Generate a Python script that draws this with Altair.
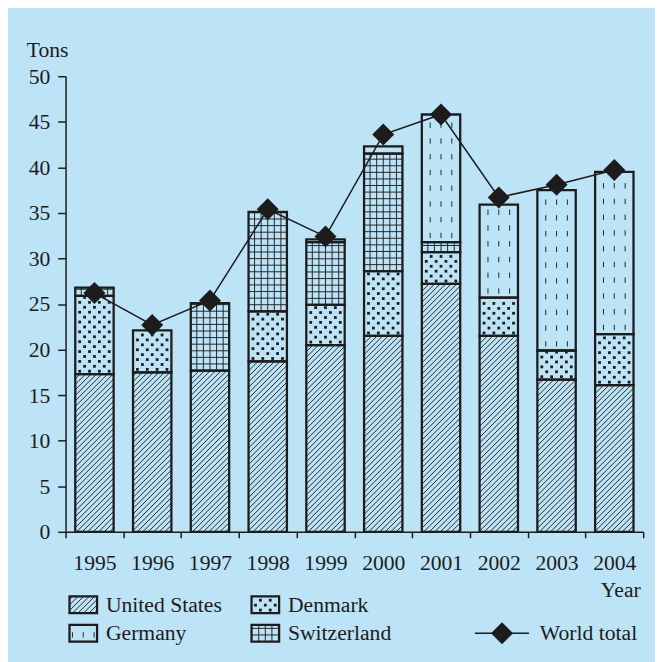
import altair as alt
import numpy as np
import pandas as pd

# ---------------- data ----------------
years = [1995, 1996, 1997, 1998, 1999, 2000, 2001, 2002, 2003, 2004]
united_states = [17.3, 17.5, 17.7, 18.7, 20.5, 21.5, 27.2, 21.5, 16.7, 16.1]
denmark = [8.6, 4.6, 0.0, 5.5, 4.4, 7.1, 3.5, 4.2, 3.2, 5.6]
switzerland = [0.9, 0.0, 7.4, 10.9, 6.9, 12.9, 1.1, 0.0, 0.0, 0.0]
germany = [0.0, 0.0, 0.0, 0.0, 0.3, 0.8, 14.0, 10.2, 17.6, 17.8]
world_total = [26.2, 22.7, 25.4, 35.4, 32.4, 43.6, 45.8, 36.7, 38.1, 39.7]

stack_order = ["United States", "Denmark", "Switzerland", "Germany"]
legend_items = ["United States", "Denmark", "Germany", "Switzerland"]
line_label = "World total"
y_ticks = list(range(0, 51, 5))

# ---------------- styling / layout ----------------
BG = "#bde3f7"
INK = "#1c1c1c"
FONT = "Liberation Serif"
FS = 22
W, H = 587, 463
X_DOMAIN = [1994.5, 2004.5]
Y_DOMAIN = [0, 50]
PXX = W / (X_DOMAIN[1] - X_DOMAIN[0])
PXY = H / (Y_DOMAIN[1] - Y_DOMAIN[0])
BAR_HALF = 19.5  # px

series = {"United States": united_states, "Denmark": denmark,
          "Switzerland": switzerland, "Germany": germany}
kind_of = {"United States": "hatch", "Denmark": "dots",
           "Switzerland": "grid", "Germany": "dash"}


def to_x(X):
    return X_DOMAIN[0] + X / PXX


def to_y(Y):
    return Y / PXY


lines, dots, rects = [], [], []


def add_pattern(kind, Xc, half, Y0, Y1):
    X0, X1 = Xc - half, Xc + half
    rects.append((X0, X1, Y0, Y1))
    if kind == "hatch":
        s = 5.6
        for k in np.arange(np.ceil((Y0 - X1) / s), np.floor((Y1 - X0) / s) + 1):
            c = k * s
            xa = max(X0, Y0 - c)
            xb = min(X1, Y1 - c)
            if xb - xa > 0.4:
                lines.append((xa, xa + c, xb, xb + c))
    elif kind == "dots":
        r = 0
        Y = Y0 + 3.0
        while Y < Y1 - 1.5:
            offs = np.arange(-15, 16, 10) if r % 2 == 0 else np.arange(-10, 11, 10)
            for o in offs:
                if abs(o) <= half - 2.5:
                    dots.append((Xc + o, Y))
            Y += 5.0
            r += 1
    elif kind == "grid":
        g = 6.7
        for o in np.arange(-3, 4) * g:
            if abs(o) <= half - 1.5:
                lines.append((Xc + o, Y0, Xc + o, Y1))
        Y = Y0 + g
        while Y < Y1 - 1.0:
            lines.append((X0, Y, X1, Y))
            Y += g
    elif kind == "dash":
        for o in (-11.0, 0.0, 11.0):
            if abs(o) <= half - 3:
                Y = Y0 + 4.0
                while Y + 5.5 < Y1 - 2.0:
                    lines.append((Xc + o, Y, Xc + o, Y + 5.5))
                    Y += 16.0


# bar segments
for i, yr in enumerate(years):
    base = 0.0
    Xc = (yr - X_DOMAIN[0]) * PXX
    for c in stack_order:
        v = series[c][i]
        if v > 0:
            add_pattern(kind_of[c], Xc, BAR_HALF, base * PXY, (base + v) * PXY)
        base += v

# legend layout (px relative to plot left / plot bottom, y up)
LEG_COL_X = [4.0, 189.0, 416.0]
LEG_ROW_Y = [-74.0, -103.0]
SW_W, SW_H = 28.0, 17.0
TEXT_GAP = 37.0
texts = []
for j, name in enumerate(legend_items):
    col, row = j % 2, j // 2
    Xs = LEG_COL_X[col]
    Yc = LEG_ROW_Y[row]
    add_pattern(kind_of[name], Xs + SW_W / 2, SW_W / 2, Yc - SW_H / 2, Yc + SW_H / 2)
    texts.append((Xs + TEXT_GAP, Yc, name))
wl_x0, wl_x1 = LEG_COL_X[2], LEG_COL_X[2] + 55.0
texts.append((wl_x1 + 11.0, LEG_ROW_Y[1], line_label))

rect_df = pd.DataFrame([dict(x=to_x(a), x2=to_x(b), y=to_y(c), y2=to_y(d)) for a, b, c, d in rects])
line_df = pd.DataFrame([dict(x=to_x(a), y=to_y(b), x2=to_x(c), y2=to_y(d)) for a, b, c, d in lines])
dot_df = pd.DataFrame([dict(x=to_x(a), y=to_y(b)) for a, b in dots])
text_df = pd.DataFrame([dict(x=to_x(a), y=to_y(b), label=t) for a, b, t in texts])
world_df = pd.DataFrame({"x": years, "y": world_total})
leg_line_df = pd.DataFrame([dict(x=to_x(wl_x0), x2=to_x(wl_x1), y=to_y(LEG_ROW_Y[1]))])
leg_pt_df = pd.DataFrame([dict(x=to_x((wl_x0 + wl_x1) / 2), y=to_y(LEG_ROW_Y[1]))])

# ---------------- scales / axes ----------------
xscale = alt.Scale(domain=X_DOMAIN, nice=False, zero=False)
yscale = alt.Scale(domain=Y_DOMAIN, nice=False, zero=False)
xaxis = alt.Axis(
    values=[X_DOMAIN[0] + k for k in range(11)],
    labelExpr="datum.value > 2004 ? '' : format(datum.value + 0.5, 'd')",
    labelOffset=PXX / 2, labelFlush=False, labelOverlap=False,
    tickSize=6, tickWidth=1.5, tickColor=INK, domainColor=INK, domainWidth=1.5,
    labelPadding=15, labelFont=FONT, labelFontSize=FS, labelColor=INK, grid=False,
    title="Year", titleX=584, titleY=66, titleAlign="right", titleBaseline="alphabetic",
    titleFont=FONT, titleFontSize=FS, titleFontWeight="normal", titleColor=INK,
)
yaxis = alt.Axis(
    values=y_ticks, tickSize=8, tickWidth=1.5, tickColor=INK, domainColor=INK,
    domainWidth=1.5, labelPadding=8, labelFont=FONT, labelFontSize=FS,
    labelColor=INK, grid=False,
    title="Tons", titleAngle=0, titleX=-40, titleY=-20, titleAlign="left",
    titleBaseline="alphabetic", titleFont=FONT, titleFontSize=FS,
    titleFontWeight="normal", titleColor=INK,
)


def X(f):
    return alt.X(f, type="quantitative", scale=xscale, axis=xaxis, title="Year")


def Y(f):
    return alt.Y(f, type="quantitative", scale=yscale, axis=yaxis, title="Tons")


fill_layer = alt.Chart(rect_df).mark_rect(fill=BG, strokeWidth=0).encode(
    x=X("x"), x2="x2", y=Y("y"), y2="y2")
rule_layer = alt.Chart(line_df).mark_rule(color=INK, strokeWidth=0.95).encode(
    x=X("x"), x2="x2", y=Y("y"), y2="y2")
dot_layer = alt.Chart(dot_df).mark_point(shape="square", filled=True, size=8,
                                         color=INK, opacity=1, strokeWidth=0).encode(
    x=X("x"), y=Y("y"))
outline_layer = alt.Chart(rect_df).mark_rect(fillOpacity=0, stroke=INK, strokeWidth=2.3).encode(
    x=X("x"), x2="x2", y=Y("y"), y2="y2")
world_line = alt.Chart(world_df).mark_line(color=INK, strokeWidth=1.5).encode(
    x=X("x"), y=Y("y"))
world_pts = alt.Chart(world_df).mark_point(shape="diamond", filled=True, size=500,
                                           color=INK, opacity=1).encode(
    x=X("x"), y=Y("y"))
leg_line = alt.Chart(leg_line_df).mark_rule(color=INK, strokeWidth=1.5).encode(
    x=X("x"), x2="x2", y=Y("y"))
leg_pt = alt.Chart(leg_pt_df).mark_point(shape="diamond", filled=True, size=500,
                                         color=INK, opacity=1).encode(
    x=X("x"), y=Y("y"))
text_layer = alt.Chart(text_df).mark_text(align="left", baseline="middle", font=FONT,
                                          fontSize=FS, color=INK).encode(
    x=X("x"), y=Y("y"), text="label")

chart = alt.layer(
    fill_layer, rule_layer, dot_layer, outline_layer,
    world_line, world_pts, leg_line, leg_pt, text_layer,
).properties(
    width=W, height=H,
    autosize=alt.AutoSizeParams(type="none"),
    padding={"left": 58.5, "top": 64, "right": 12, "bottom": 130},
    background=BG,
).configure_view(strokeWidth=0)

chart.save("out.html", embed_options={"renderer": "svg", "actions": False})
